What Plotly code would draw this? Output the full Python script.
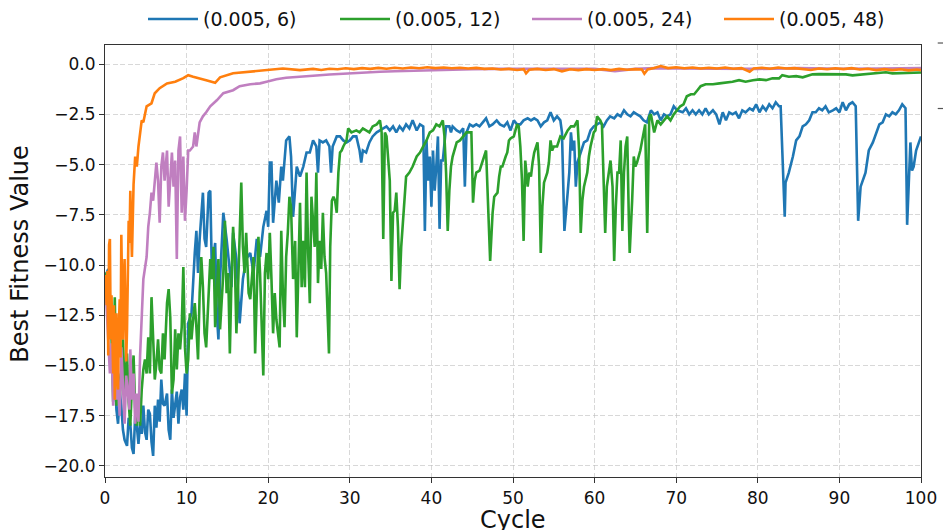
import plotly.graph_objects as go

# ---------------- data ----------------
series_names = ["(0.005, 6)", "(0.005, 12)", "(0.005, 24)", "(0.005, 48)"]
series_colors = ["#1f77b4", "#2ca02c", "#c07fc0", "#ff7f0e"]

x_ticks = [0, 10, 20, 30, 40, 50, 60, 70, 80, 90, 100]
y_ticks = [0.0, -2.5, -5.0, -7.5, -10.0, -12.5, -15.0, -17.5, -20.0]
x_title = "Cycle"
y_title = "Best Fitness Value"

blue_x = [0.0, 0.2, 0.4, 0.6, 0.8, 1.0, 1.2, 1.4, 1.6, 1.8, 2.0, 2.2, 2.4, 2.7, 2.9, 3.1, 3.3, 3.5, 3.7, 3.9,
          4.1, 4.3, 4.5, 4.7, 4.9, 5.1, 5.3, 5.5, 5.7, 5.9, 6.1, 6.3, 6.5, 6.7, 6.9, 7.1, 7.3, 7.6, 7.8, 8.0,
          8.2, 8.4, 8.6, 8.8, 9.0, 9.2, 9.4, 9.6, 9.8, 10.0, 10.2, 10.6, 11.0, 11.2, 11.4, 11.6, 12.0, 12.2, 12.4, 12.7,
          12.9, 13.1, 13.3, 13.5, 13.7, 13.9, 14.1, 14.5, 14.9, 15.2, 15.5, 15.7, 16.1, 16.5, 16.9, 17.3, 17.8, 18.2, 18.6, 19.0,
          19.4, 19.8, 20.0, 20.2, 20.4, 20.6, 21.0, 21.3, 21.6, 21.8, 22.0, 22.2, 22.6, 22.8, 23.05, 23.3, 23.5, 23.9, 24.3, 24.7,
          25.1, 25.5, 25.9, 26.1, 26.3, 26.7, 27.1, 27.5, 27.7, 27.9, 28.4, 28.8, 29.2, 29.6, 30.0, 30.4, 30.8, 31.2, 31.4, 31.6,
          32.0, 32.4, 32.8, 33.3, 33.7, 34.1, 34.5, 34.9, 35.3, 35.7, 36.1, 36.5, 36.9, 37.3, 37.7, 38.2, 38.6, 39.0, 39.2, 39.4,
          39.6, 39.8, 40.0, 40.2, 40.4, 40.6, 40.8, 41.0, 41.2, 41.4, 41.6, 41.8, 42.2, 42.4, 42.6, 43.1, 43.5, 43.9, 44.1, 44.3,
          44.7, 45.1, 45.5, 45.9, 46.3, 46.7, 47.1, 47.5, 48.0, 48.4, 48.9, 49.3, 49.7, 50.1, 50.5, 50.9, 51.3, 51.8, 52.2, 52.6,
          53.0, 53.4, 53.8, 54.2, 54.6, 55.0, 55.4, 55.8, 56.0, 56.3, 56.7, 56.9, 57.1, 57.3, 57.5, 57.7, 57.9, 58.3, 58.7, 59.1,
          59.5, 59.9, 60.3, 60.7, 61.1, 61.5, 61.9, 62.4, 62.8, 63.2, 63.6, 64.0, 64.4, 64.8, 65.2, 65.6, 66.0, 66.4, 66.9, 67.3,
          67.7, 68.1, 68.5, 68.9, 69.3, 69.7, 70.1, 70.8, 71.2, 71.6, 72.0, 72.4, 72.8, 73.2, 73.6, 74.0, 74.5, 74.9, 75.3, 75.7,
          76.1, 76.5, 76.9, 77.3, 77.7, 78.1, 78.5, 79.0, 79.4, 79.8, 80.2, 80.6, 81.0, 81.4, 81.8, 82.2, 82.6, 82.8, 83.0, 83.3,
          83.4, 83.8, 84.3, 84.7, 85.1, 85.5, 85.9, 86.3, 86.7, 87.1, 87.5, 87.9, 88.3, 88.7, 89.2, 89.6, 90.0, 90.4, 90.8, 91.2,
          91.6, 92.0, 92.3, 92.6, 93.2, 93.6, 94.1, 94.5, 94.9, 95.3, 95.7, 96.1, 96.5, 96.9, 97.3, 97.7, 98.1, 98.3, 98.5, 98.7,
          98.9, 99.1, 99.4, 99.8, 100.0]
blue_y = [-10.5, -10.4, -10.2, -11.5, -12.9, -15.7, -15.4, -17.2, -17.9, -16.3, -17.0, -18.2, -18.7, -19.0, -17.6, -17.9, -19.1, -19.4, -17.5, -18.0,
          -18.9, -17.9, -18.4, -17.0, -18.3, -18.7, -17.2, -17.4, -18.8, -19.5, -17.0, -18.1, -16.7, -17.8, -15.7, -16.9, -17.0, -16.4, -18.2, -18.7,
          -16.2, -17.6, -17.0, -16.3, -17.9, -16.6, -16.2, -17.2, -15.4, -17.5, -12.9, -12.4, -9.4, -8.3, -10.4, -8.7, -6.4, -8.7, -9.1, -6.4,
          -6.3, -10.4, -9.6, -8.9, -12.4, -13.7, -10.7, -7.4, -8.7, -10.0, -11.1, -8.4, -9.7, -12.9, -10.7, -9.7, -9.4, -10.4, -8.7, -9.6,
          -8.1, -7.3, -8.1, -4.9, -4.9, -7.9, -5.8, -6.9, -5.1, -5.8, -4.6, -3.8, -3.6, -4.6, -7.6, -6.1, -5.1, -5.6, -5.1, -4.4,
          -4.4, -3.8, -4.1, -5.4, -3.8, -3.9, -3.8, -4.1, -5.4, -4.1, -3.6, -3.6, -3.8, -3.9, -3.8, -3.6, -3.6, -4.3, -4.9, -4.3,
          -4.4, -3.9, -3.6, -3.4, -3.3, -3.2, -3.1, -3.3, -3.1, -3.4, -3.1, -3.3, -3.0, -3.2, -2.8, -3.3, -3.0, -3.1, -8.3, -3.8,
          -5.8, -4.6, -7.1, -4.3, -6.3, -5.1, -3.6, -8.2, -4.8, -4.8, -3.8, -3.1, -3.1, -3.4, -3.1, -3.3, -3.4, -3.2, -6.1, -3.4,
          -3.0, -3.1, -3.0, -3.1, -2.9, -2.7, -3.1, -3.0, -2.8, -3.0, -3.1, -2.9, -3.3, -2.8, -3.0, -3.0, -2.8, -2.7, -2.8, -2.7,
          -2.8, -3.1, -2.9, -2.8, -2.4, -2.8, -2.6, -2.8, -3.4, -8.3, -6.4, -5.4, -3.4, -4.3, -3.8, -6.1, -4.9, -4.4, -3.9, -3.8,
          -3.3, -3.1, -3.0, -2.9, -3.1, -2.8, -2.6, -2.7, -2.5, -2.6, -2.3, -2.5, -2.6, -2.4, -2.5, -2.6, -2.8, -2.9, -2.3, -2.5,
          -2.4, -2.8, -2.5, -2.6, -2.5, -2.1, -2.3, -2.4, -2.2, -2.5, -2.3, -2.5, -2.3, -2.5, -2.2, -2.5, -2.3, -2.5, -3.0, -2.4,
          -2.8, -2.4, -2.5, -2.4, -2.7, -2.3, -2.4, -2.2, -2.3, -2.0, -2.4, -2.1, -2.3, -2.0, -2.2, -1.9, -2.1, -2.1, -4.3, -7.6,
          -5.9, -5.4, -4.6, -3.8, -3.6, -3.1, -3.0, -2.8, -2.4, -2.4, -2.2, -2.3, -2.1, -2.4, -2.3, -2.2, -2.4, -1.9, -2.3, -2.0,
          -1.9, -2.1, -7.8, -6.1, -5.4, -4.3, -3.9, -3.4, -3.0, -2.9, -2.5, -2.6, -2.4, -2.5, -2.3, -2.0, -2.2, -8.0, -6.3, -3.9,
          -5.3, -5.1, -4.3, -3.8, -3.6]

green_x = [0.0, 0.2, 0.5, 0.8, 1.0, 1.2, 1.4, 1.6, 1.8, 2.0, 2.2, 2.4, 2.7, 2.9, 3.1, 3.3, 3.5, 3.7, 3.9, 4.1,
           4.3, 4.5, 4.7, 4.9, 5.1, 5.3, 5.5, 5.7, 5.9, 6.1, 6.3, 6.5, 6.7, 6.9, 7.1, 7.3, 7.6, 7.8, 8.0, 8.2,
           8.4, 8.6, 8.8, 9.0, 9.2, 9.4, 9.6, 9.8, 10.0, 10.2, 10.4, 10.6, 10.8, 11.0, 11.2, 11.4, 11.6, 11.8, 12.0, 12.2,
           12.4, 12.7, 12.9, 13.1, 13.3, 13.5, 13.7, 13.9, 14.1, 14.3, 14.5, 14.7, 14.9, 15.1, 15.3, 15.5, 15.7, 15.9, 16.1, 16.3,
           16.5, 16.7, 16.9, 17.1, 17.3, 17.6, 17.8, 18.0, 18.2, 18.4, 18.6, 18.8, 19.0, 19.4, 19.6, 19.8, 20.0, 20.2, 20.4, 20.6,
           20.8, 21.0, 21.4, 21.6, 21.8, 22.0, 22.2, 22.4, 22.6, 22.8, 23.05, 23.3, 23.5, 23.7, 23.9, 24.1, 24.3, 24.5, 24.7, 24.9,
           25.1, 25.3, 25.5, 25.7, 25.9, 26.1, 26.3, 26.5, 26.7, 26.9, 27.1, 27.45, 27.6, 27.8, 28.0, 28.2, 28.4, 28.6, 28.8, 29.0,
           29.2, 29.6, 29.8, 30.2, 30.8, 31.2, 31.6, 32.0, 32.4, 32.8, 33.3, 33.7, 33.9, 34.1, 34.3, 34.5, 34.7, 34.9, 35.1, 35.3,
           35.5, 35.7, 35.9, 36.1, 36.3, 36.5, 36.7, 36.9, 37.3, 37.7, 38.2, 38.6, 39.0, 39.4, 39.8, 40.2, 40.6, 41.0, 41.4, 41.6,
           41.8, 42.0, 42.2, 42.4, 42.6, 42.8, 43.1, 43.5, 43.9, 44.3, 44.9, 45.1, 45.3, 45.5, 45.9, 46.3, 46.7, 47.2, 47.5, 47.7,
           48.1, 48.3, 48.5, 48.7, 48.9, 49.1, 49.3, 49.5, 49.7, 50.1, 50.3, 50.5, 50.7, 50.9, 51.1, 51.3, 51.5, 51.8, 52.0, 52.2,
           52.4, 52.6, 53.0, 53.2, 53.4, 53.6, 53.8, 54.0, 54.2, 54.4, 54.6, 54.8, 55.0, 55.4, 55.6, 55.8, 56.2, 56.7, 57.1, 57.5,
           57.9, 58.1, 58.3, 58.5, 58.7, 59.1, 59.3, 59.5, 59.9, 60.1, 60.3, 60.7, 60.9, 61.1, 61.3, 61.5, 61.7, 61.95, 62.2, 62.4,
           62.6, 62.8, 63.0, 63.2, 63.4, 63.6, 63.8, 64.0, 64.2, 64.3, 64.6, 64.8, 65.0, 65.2, 65.6, 66.0, 66.2, 66.45, 66.7, 66.9,
           67.3, 67.5, 67.7, 68.1, 68.5, 68.9, 69.3, 69.7, 70.1, 70.5, 70.9, 71.3, 71.8, 72.2, 72.6, 73.0, 73.6, 74.5, 75.3, 76.1,
           76.9, 77.7, 78.5, 79.4, 80.2, 81.0, 81.8, 82.6, 83.0, 83.8, 84.7, 85.5, 86.7, 87.5, 88.3, 89.2, 90.0, 90.8, 91.6, 92.4,
           93.2, 94.1, 94.9, 95.7, 96.5, 97.3, 98.1, 98.9, 99.8, 100.0]
green_y = [-10.5, -10.4, -12.5, -13.4, -16.8, -11.6, -17.0, -15.4, -16.7, -15.0, -13.7, -16.2, -14.4, -16.8, -18.0, -16.0, -14.5, -17.1, -18.0, -16.5,
           -18.0, -16.2, -15.2, -14.7, -15.4, -13.6, -15.4, -11.6, -13.7, -15.7, -14.9, -13.7, -15.2, -15.4, -13.4, -14.7, -11.9, -11.2, -12.6, -16.4,
           -15.7, -13.2, -15.2, -13.4, -14.2, -13.1, -10.1, -14.1, -15.4, -14.7, -12.4, -13.7, -12.7, -11.9, -13.1, -14.7, -11.4, -9.6, -11.1, -13.4,
           -14.1, -11.4, -9.7, -10.7, -9.1, -13.1, -11.7, -9.7, -13.2, -11.7, -10.4, -7.8, -11.4, -10.4, -14.4, -10.7, -8.1, -9.6, -13.4, -11.2,
           -8.7, -5.9, -9.1, -10.4, -8.4, -11.4, -11.7, -10.7, -9.6, -14.4, -10.7, -8.6, -10.4, -15.5, -10.4, -9.4, -10.7, -8.4, -10.7, -13.4,
           -11.4, -12.7, -14.1, -8.3, -11.4, -13.1, -9.6, -8.4, -6.6, -7.1, -10.7, -8.8, -13.6, -9.6, -6.9, -11.1, -8.8, -11.1, -5.4, -9.4,
           -11.9, -6.6, -8.1, -9.1, -5.4, -10.9, -8.8, -10.2, -7.4, -9.6, -10.4, -14.4, -9.1, -6.8, -6.6, -6.8, -7.4, -5.4, -4.4, -4.3,
           -4.1, -3.8, -3.2, -3.4, -3.3, -3.4, -3.2, -3.3, -3.4, -3.1, -3.0, -2.8, -3.4, -8.7, -3.4, -3.6, -4.6, -5.8, -10.8, -7.4,
           -7.3, -6.4, -8.1, -11.2, -9.1, -7.9, -6.6, -5.6, -5.4, -5.1, -4.6, -4.4, -4.1, -3.8, -3.4, -3.3, -3.0, -3.1, -2.8, -3.6,
           -5.4, -8.3, -6.3, -5.1, -4.6, -4.3, -3.9, -3.8, -3.6, -3.4, -3.4, -6.9, -5.8, -5.4, -5.3, -4.8, -4.3, -9.8, -7.4, -6.6,
           -6.4, -5.6, -5.1, -5.1, -4.8, -4.6, -4.4, -3.8, -3.7, -3.6, -3.3, -3.0, -3.1, -4.1, -5.8, -8.8, -4.8, -6.1, -5.4, -5.6,
           -4.9, -4.4, -3.9, -5.1, -9.4, -7.1, -5.9, -5.6, -5.4, -4.9, -3.8, -4.3, -4.1, -4.1, -3.8, -3.6, -3.7, -3.3, -3.1, -3.1,
           -2.8, -4.3, -8.4, -6.8, -6.1, -5.4, -4.6, -4.1, -3.4, -3.3, -2.6, -2.8, -3.0, -5.4, -8.4, -6.1, -5.6, -4.8, -6.1, -9.8,
           -7.1, -5.4, -5.4, -3.8, -8.3, -5.4, -4.1, -3.6, -7.8, -9.4, -6.8, -4.6, -5.1, -4.9, -4.3, -3.3, -3.0, -8.4, -2.6, -2.5,
           -3.4, -3.1, -2.8, -3.0, -2.8, -2.6, -2.8, -2.5, -2.3, -2.1, -2.0, -1.6, -1.5, -1.5, -1.3, -1.1, -1.0, -1.0, -0.96, -0.93,
           -0.88, -0.8, -0.88, -0.8, -0.76, -0.8, -0.71, -0.71, -0.55, -0.63, -0.6, -0.66, -0.51, -0.5, -0.5, -0.51, -0.53, -0.51, -0.56, -0.53,
           -0.5, -0.45, -0.43, -0.41, -0.46, -0.45, -0.41, -0.4, -0.41, -0.42]

purple_x = [0.0, 0.15, 0.3, 0.5, 0.6, 0.8, 1.0, 1.2, 1.4, 1.5, 1.6, 1.8, 2.0, 2.2, 2.4, 2.6, 2.8, 3.0, 3.1, 3.3,
            3.5, 3.7, 3.9, 4.1, 4.3, 4.5, 4.7, 5.1, 5.3, 5.5, 5.7, 5.9, 6.1, 6.3, 6.5, 6.7, 6.9, 7.1, 7.3, 7.6,
            7.8, 8.0, 8.2, 8.4, 8.6, 8.8, 9.0, 9.2, 9.4, 9.6, 9.8, 10.0, 10.2, 10.4, 10.8, 11.0, 11.2, 11.6, 12.0, 12.4,
            12.9, 13.7, 14.5, 15.7, 16.5, 17.8, 19.0, 19.8, 21.0, 22.2, 23.5, 25.5, 27.5, 29.6, 31.5, 33.7, 35.5, 37.7, 39.8, 42.0,
            45.0, 48.0, 50.0, 55.0, 60.0, 62.5, 65.0, 67.5, 70.0, 75.0, 80.0, 85.0, 90.0, 95.0, 100.0]
purple_y = [-10.5, -11.8, -12.5, -14.8, -15.4, -13.9, -17.0, -14.5, -16.7, -15.2, -15.9, -17.5, -14.1, -16.3, -17.9, -15.5, -16.2, -17.2, -14.2, -16.7,
            -15.4, -17.9, -16.4, -17.8, -14.5, -12.6, -10.7, -9.6, -8.1, -7.4, -6.4, -6.8, -5.8, -4.9, -5.8, -7.9, -5.1, -4.4, -5.8, -4.3,
            -7.1, -5.4, -4.4, -6.1, -4.8, -9.7, -4.3, -3.6, -7.4, -4.6, -7.8, -6.3, -4.3, -4.3, -4.1, -3.4, -4.1, -2.9, -2.6, -2.4,
            -2.1, -1.8, -1.45, -1.3, -1.1, -1.0, -0.96, -0.88, -0.75, -0.68, -0.63, -0.58, -0.52, -0.46, -0.42, -0.38, -0.36, -0.33, -0.3, -0.28,
            -0.26, -0.24, -0.25, -0.24, -0.24, -0.35, -0.24, -0.2, -0.22, -0.22, -0.24, -0.2, -0.23, -0.22, -0.2]

orange_x = [0.0, 0.1, 0.2, 0.3, 0.4, 0.5, 0.6, 0.7, 0.8, 0.9, 1.0, 1.1, 1.2, 1.3, 1.4, 1.5, 1.6, 1.7, 1.8, 1.9,
            2.0, 2.1, 2.2, 2.3, 2.4, 2.5, 2.6, 2.7, 2.8, 2.9, 3.0, 3.1, 3.2, 3.3, 3.5, 3.7, 3.9, 4.1, 4.5, 4.7,
            5.1, 5.7, 6.1, 6.7, 7.6, 8.6, 9.6, 10.2, 10.8, 11.6, 12.4, 13.5, 14.1, 15.7, 17.8, 19.8, 21.8, 23.9, 24.5, 25.5,
            26.5, 27.5, 28.5, 29.5, 30.5, 31.5, 32.5, 33.5, 34.5, 35.5, 36.5, 37.5, 38.5, 39.5, 40.5, 41.5, 42.5, 43.5, 44.5, 45.5,
            46.5, 47.5, 48.5, 49.5, 50.5, 51.3, 51.6, 52.0, 53.0, 54.0, 55.0, 56.0, 57.0, 58.0, 59.0, 60.0, 61.0, 62.0, 63.0, 64.0,
            65.0, 65.8, 66.1, 66.5, 67.3, 68.1, 69.0, 70.0, 71.0, 72.0, 73.0, 74.0, 75.0, 76.0, 77.0, 78.0, 79.0, 79.5, 80.5, 81.5,
            82.5, 83.5, 84.5, 85.5, 86.5, 87.5, 88.5, 89.5, 90.5, 91.5, 92.5, 93.5, 94.5, 95.5, 96.5, 97.5, 98.5, 99.5, 100.0]
orange_y = [-10.5, -10.8, -12.0, -10.3, -14.5, -9.0, -8.7, -13.7, -11.5, -15.0, -15.4, -12.0, -16.7, -14.0, -12.4, -15.8, -16.2, -13.0, -11.7, -14.6,
            -8.5, -11.2, -13.7, -10.9, -9.7, -12.3, -14.8, -13.2, -10.0, -7.8, -8.9, -6.3, -8.0, -9.6, -6.0, -4.6, -5.1, -4.1, -2.8, -2.9,
            -2.1, -1.95, -1.45, -1.2, -0.96, -0.88, -0.7, -0.55, -0.63, -0.7, -0.8, -0.93, -0.66, -0.46, -0.38, -0.27, -0.22, -0.3, -0.28, -0.24,
            -0.29, -0.23, -0.26, -0.21, -0.25, -0.2, -0.24, -0.19, -0.23, -0.18, -0.22, -0.17, -0.21, -0.16, -0.2, -0.17, -0.21, -0.18, -0.22, -0.19,
            -0.24, -0.22, -0.27, -0.24, -0.29, -0.25, -0.46, -0.28, -0.24, -0.29, -0.25, -0.36, -0.26, -0.3, -0.25, -0.29, -0.25, -0.3, -0.24, -0.28,
            -0.25, -0.27, -0.48, -0.27, -0.2, -0.1, -0.2, -0.16, -0.21, -0.17, -0.22, -0.18, -0.22, -0.17, -0.23, -0.2, -0.38, -0.22, -0.18, -0.23,
            -0.17, -0.22, -0.2, -0.24, -0.29, -0.22, -0.26, -0.21, -0.25, -0.2, -0.27, -0.23, -0.3, -0.25, -0.3, -0.26, -0.31, -0.27, -0.3]

series_x = [blue_x, green_x, purple_x, orange_x]
series_y = [blue_y, green_y, purple_y, orange_y]

# ---------------- figure ----------------
FONT = "DejaVu Sans"
fig = go.Figure()
for name, color, xs, ys in zip(series_names, series_colors, series_x, series_y):
    fig.add_trace(go.Scatter(x=xs, y=ys, mode="lines", name=name,
                             line=dict(color=color, width=2.6)))

axis_common = dict(
    showline=True, linecolor="#333333", linewidth=1.2, mirror=True,
    ticks="outside", ticklen=5, tickwidth=1.1, tickcolor="#333333",
    showgrid=True, gridcolor="rgba(190,190,190,0.6)", gridwidth=1, griddash="5px,2.5px",
    zeroline=False, automargin=False,
    tickfont=dict(family=FONT, size=17, color="#111111"),
)

fig.update_layout(
    width=943, height=530,
    margin=dict(l=105, r=22, t=45, b=53, autoexpand=False),
    paper_bgcolor="white", plot_bgcolor="white",
    font=dict(family=FONT, color="#111111"),
    xaxis=dict(axis_common, range=[0, 100], tickvals=x_ticks),
    yaxis=dict(axis_common, range=[-20.55, 0.95], tickvals=y_ticks, tickformat=".1f"),
    legend=dict(orientation="h", xref="container", yref="container",
                x=143 / 943, y=0.964, xanchor="left", yanchor="middle",
                itemwidth=50, entrywidthmode="pixels", entrywidth=127,
                font=dict(family=FONT, size=19), bgcolor="rgba(0,0,0,0)"),
    showlegend=True,
    annotations=[
        dict(text=x_title, xref="paper", yref="paper", x=0.5, y=-0.0995,
             xanchor="center", yanchor="middle", showarrow=False,
             font=dict(family=FONT, size=24, color="#111111")),
        dict(text=y_title, xref="paper", yref="paper", x=-0.1035, y=0.516,
             xanchor="center", yanchor="middle", showarrow=False, textangle=-90,
             font=dict(family=FONT, size=24, color="#111111")),
    ],
    shapes=[
        dict(type="line", xref="paper", yref="paper", x0=1.0205, x1=1.03, y0=1.0046, y1=1.0046,
             line=dict(color="#555555", width=1.2)),
        dict(type="line", xref="paper", yref="paper", x0=1.0205, x1=1.03, y0=0.853, y1=0.853,
             line=dict(color="#555555", width=1.2)),
    ],
)

fig.write_html("out.html", config={"displayModeBar": False},
               post_script="document.body.style.margin='0';document.body.style.overflow='hidden';")
